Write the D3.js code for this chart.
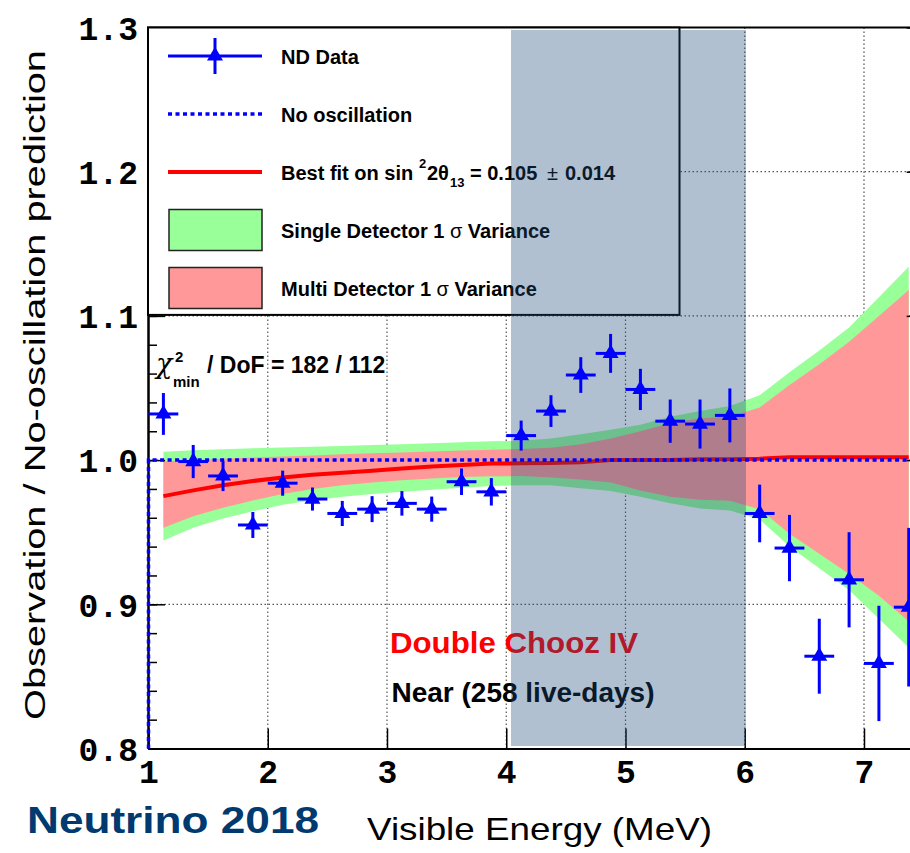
<!DOCTYPE html>
<html>
<head>
<meta charset="utf-8">
<script src="https://cdn.jsdelivr.net/npm/d3@7"></script>
<style>
  body { margin: 0; background: #fff; }
  svg { display: block; }
</style>
</head>
<body>
<div id="chart"></div>
<script>
// Bin centres (MeV) and near detector ratio data
const energy = [1.125, 1.375, 1.625, 1.875, 2.125, 2.375, 2.625, 2.875, 3.125, 3.375, 3.625, 3.875, 4.125,
                4.375, 4.625, 4.875, 5.125, 5.375, 5.625, 5.875, 6.125, 6.375, 6.625, 6.875, 7.125, 7.375];
const ratio = [1.032, 0.999, 0.989, 0.955, 0.984, 0.973, 0.963, 0.966, 0.970, 0.966, 0.985, 0.978, 1.017,
               1.034, 1.059, 1.074, 1.049, 1.027, 1.025, 1.031, 0.963, 0.939, 0.864, 0.917, 0.859, 0.898];
const ratioErr = [0.0145, 0.0115, 0.0105, 0.009, 0.0087, 0.008, 0.0087, 0.009, 0.0085, 0.0087, 0.0092, 0.0095, 0.0104,
                  0.011, 0.0124, 0.0135, 0.0143, 0.015, 0.017, 0.0187, 0.020, 0.023, 0.026, 0.033, 0.040, 0.055];
const binWidth = 0.25;

// Best fit curve
const bestFit = [0.975, 0.979, 0.9825, 0.9855, 0.988, 0.9898, 0.9912, 0.9926, 0.9942, 0.9955, 0.9966, 0.9976, 0.9978,
                 0.998, 0.9985, 1.000, 1.000, 1.000, 1.0006, 1.0006, 1.001, 1.002, 1.002, 1.002, 1.002, 1.002];

// 1 sigma bands
const singleUp = [1.0058, 1.0068, 1.0076, 1.0082, 1.0088, 1.0093, 1.0098, 1.0104, 1.0110, 1.0117, 1.0123, 1.0130, 1.0135,
                  1.0150, 1.0180, 1.0210, 1.0245, 1.0300, 1.0340, 1.0375, 1.0450, 1.0610, 1.0760, 1.0920, 1.1130, 1.1340];
const singleLo = [0.9443, 0.9530, 0.9595, 0.9645, 0.9690, 0.9720, 0.9745, 0.9765, 0.9780, 0.9795, 0.9808, 0.9820, 0.9826,
                  0.9826, 0.9805, 0.9785, 0.9745, 0.9700, 0.9665, 0.9650, 0.9590, 0.9400, 0.9250, 0.9100, 0.8900, 0.8700];
const multiUp = [0.9990, 1.0000, 1.0010, 1.0018, 1.0025, 1.0032, 1.0040, 1.0047, 1.0053, 1.0060, 1.0066, 1.0072, 1.0077,
                 1.0085, 1.0110, 1.0150, 1.0200, 1.0255, 1.0290, 1.0300, 1.0365, 1.0520, 1.0665, 1.0820, 1.1000, 1.1180];
const multiLo = [0.9530, 0.9610, 0.9670, 0.9720, 0.9765, 0.9800, 0.9825, 0.9845, 0.9860, 0.9872, 0.9882, 0.9888, 0.9889,
                 0.9880, 0.9865, 0.9845, 0.9790, 0.9745, 0.9725, 0.9718, 0.9660, 0.9490, 0.9350, 0.9210, 0.9060, 0.8880];

// Axes and annotations
const xTicks = [1, 2, 3, 4, 5, 6, 7];
const yTicks = [0.8, 0.9, 1.0, 1.1, 1.2, 1.3];
const xDomain = [1, 7.5];
const yDomain = [0.8, 1.3];
const shadedRange = [4.04, 6.01];
const noOscillation = 1.0;

const W = 910, H = 853;
const sans = "'Liberation Sans', Arial, Helvetica, sans-serif";
const mono = "'Liberation Mono', 'Courier New', monospace";
const blue = "#0000ff";

const svg = d3.select("#chart")
  .append("svg")
    .attr("width", W)
    .attr("height", H);

svg.append("rect").attr("width", W).attr("height", H).attr("fill", "#fff");

const x = d3.scaleLinear().domain(xDomain).range([148.5, 148.5 + 6.5 * 119.25]);
const y = d3.scaleLinear().domain(yDomain).range([748.5, 27.5]);

const pts = energy.map((e, i) => ({
  e: e, r: ratio[i], err: ratioErr[i], fit: bestFit[i],
  sUp: singleUp[i], sLo: singleLo[i], mUp: multiUp[i], mLo: multiLo[i]
}));

// Grid lines
const grid = svg.append("g")
  .attr("stroke", "#555")
  .attr("stroke-width", 1.2)
  .attr("stroke-dasharray", "1.5,2.5");
grid.selectAll(".vg")
  .data(xTicks.slice(1))
  .join("line")
    .attr("x1", d => x(d)).attr("x2", d => x(d))
    .attr("y1", y(1.3)).attr("y2", y(0.8));
grid.selectAll(".hg")
  .data(yTicks.slice(1, -1))
  .join("line")
    .attr("x1", x(1)).attr("x2", W)
    .attr("y1", d => y(d)).attr("y2", d => y(d));

// Bands
const area = (lo, up) => d3.area()
  .x(d => x(d.e))
  .y0(d => y(d[lo]))
  .y1(d => y(d[up]));

svg.append("path").datum(pts).attr("fill", "#99ff99").attr("d", area("sLo", "sUp"));
svg.append("path").datum(pts).attr("fill", "#ff9999").attr("d", area("mLo", "mUp"));

// Best fit line
svg.append("path")
  .datum(pts)
  .attr("fill", "none")
  .attr("stroke", "#ff0000")
  .attr("stroke-width", 4)
  .attr("d", d3.line().x(d => x(d.e)).y(d => y(d.fit)));

// Axes
const styleAxis = g => {
  g.select(".domain").attr("stroke", "#000").attr("stroke-width", 2);
  g.selectAll(".tick line").attr("stroke", "#000").attr("stroke-width", 1.5);
  g.selectAll("text")
    .attr("font-family", mono)
    .attr("font-weight", "bold")
    .attr("font-size", 33)
    .attr("fill", "#000");
};

svg.append("g")
  .attr("transform", `translate(0,${y(0.8)})`)
  .call(d3.axisBottom(x).tickValues(xTicks).tickSize(-20).tickSizeOuter(0).tickPadding(11).tickFormat(d3.format("d")))
  .call(styleAxis);

svg.append("g")
  .attr("transform", `translate(${x(1) - 0.5},0)`)
  .call(d3.axisLeft(y).ticks(25).tickSize(-9).tickSizeOuter(0).tickFormat(""))
  .call(styleAxis);

svg.append("g")
  .attr("transform", `translate(${x(1) - 0.5},0)`)
  .call(d3.axisLeft(y).tickValues(yTicks).tickSize(-17).tickSizeOuter(0).tickPadding(10).tickFormat(d3.format(".1f")))
  .call(styleAxis)
  .call(g => g.selectAll("text").attr("dy", "0.36em"));

svg.append("g")
  .attr("transform", `translate(${x(xDomain[1])},0)`)
  .call(d3.axisRight(y).tickValues(yTicks).tickSize(-17).tickSizeOuter(0).tickFormat(""))
  .call(styleAxis);

// Top frame
svg.append("line")
  .attr("x1", x(1) - 1.5).attr("x2", W)
  .attr("y1", y(1.3)).attr("y2", y(1.3))
  .attr("stroke", "#000").attr("stroke-width", 2);

// Legend
const legend = svg.append("g");
legend.append("rect")
  .attr("x", x(1) - 0.5).attr("y", y(1.3))
  .attr("width", 680 - x(1)).attr("height", y(1.1) - 1 - y(1.3))
  .attr("fill", "#fff")
  .attr("stroke", "#000")
  .attr("stroke-width", 2);

const rowY = i => 56 + i * 58;
const sx0 = 168, sx1 = 262, tx = 281;

// row 0: ND data
legend.append("line").attr("x1", sx0).attr("x2", sx1).attr("y1", rowY(0)).attr("y2", rowY(0))
  .attr("stroke", blue).attr("stroke-width", 3);
legend.append("line").attr("x1", (sx0 + sx1) / 2).attr("x2", (sx0 + sx1) / 2).attr("y1", rowY(0) - 18).attr("y2", rowY(0) + 18)
  .attr("stroke", blue).attr("stroke-width", 3);
legend.append("path")
  .attr("d", d3.symbol(d3.symbolTriangle, 110))
  .attr("transform", `translate(${(sx0 + sx1) / 2},${rowY(0)})`)
  .attr("fill", blue);
// row 1: no oscillation
legend.append("line").attr("x1", sx0).attr("x2", sx1).attr("y1", rowY(1)).attr("y2", rowY(1))
  .attr("stroke", blue).attr("stroke-width", 3.5).attr("stroke-dasharray", "4,3.5");
// row 2: best fit
legend.append("line").attr("x1", sx0).attr("x2", sx1).attr("y1", rowY(2)).attr("y2", rowY(2))
  .attr("stroke", "#ff0000").attr("stroke-width", 4);
// rows 3, 4: bands
[["#99ff99", 3], ["#ff9999", 4]].forEach(([c, i]) => {
  legend.append("rect")
    .attr("x", sx0 + 1).attr("y", rowY(i) - 20.5)
    .attr("width", sx1 - sx0 - 1).attr("height", 41)
    .attr("fill", c).attr("stroke", "#222").attr("stroke-width", 1.5);
});

const legText = (i) => legend.append("text")
  .attr("x", tx).attr("y", rowY(i) + 7.5)
  .attr("font-family", sans).attr("font-weight", "bold").attr("font-size", 20).attr("fill", "#000");

legText(0).text("ND Data");
legText(1).text("No oscillation");
const bf = legText(2);
bf.append("tspan").text("Best fit on sin ");
bf.append("tspan").attr("x", 419).attr("y", rowY(2) - 4).attr("font-size", 13).text("2");
bf.append("tspan").attr("x", 427).attr("y", rowY(2) + 7.5).text("2\u03b8");
bf.append("tspan").attr("x", 450).attr("y", rowY(2) + 15).attr("font-size", 13).text("13");
bf.append("tspan").attr("x", 470).attr("y", rowY(2) + 7.5).text("= 0.105");
bf.append("tspan").attr("x", 547).attr("font-weight", "normal").text("\u00b1");
bf.append("tspan").attr("x", 565).text("0.014");
const s1 = legText(3);
s1.append("tspan").text("Single Detector 1 ");
s1.append("tspan").attr("font-weight", "normal").text("\u03c3");
s1.append("tspan").text(" Variance");
const m1 = legText(4);
m1.append("tspan").text("Multi Detector 1 ");
m1.append("tspan").attr("font-weight", "normal").text("\u03c3");
m1.append("tspan").text(" Variance");

// Chi2 annotation
const chi = svg.append("g").attr("font-family", sans).attr("fill", "#000");
chi.append("text").attr("x", 156).attr("y", 373).attr("font-size", 27)
  .attr("font-family", "'DejaVu Serif', serif").attr("font-style", "italic").text("\u03c7");
chi.append("text").attr("x", 175).attr("y", 362).attr("font-size", 15).attr("font-weight", "bold").text("2");
chi.append("text").attr("x", 173).attr("y", 387).attr("font-size", 15).attr("font-weight", "bold").text("min");
chi.append("text").attr("x", 207).attr("y", 373).attr("font-size", 23).attr("font-weight", "bold").text("/ DoF = 182 / 112");

// Experiment labels
svg.append("text")
  .attr("x", 514).attr("y", 653)
  .attr("text-anchor", "middle")
  .attr("font-family", sans).attr("font-weight", "bold").attr("font-size", 30)
  .attr("textLength", 248).attr("lengthAdjust", "spacingAndGlyphs")
  .attr("fill", "#ff0000")
  .text("Double Chooz IV");
svg.append("text")
  .attr("x", 523).attr("y", 702)
  .attr("text-anchor", "middle")
  .attr("font-family", sans).attr("font-weight", "bold").attr("font-size", 28)
  .attr("fill", "#000")
  .text("Near (258 live-days)");

// Shaded energy window (drawn over bands and text)
svg.append("rect")
  .attr("x", x(shadedRange[0])).attr("y", y(1.3) + 2.5)
  .attr("width", x(shadedRange[1]) - x(shadedRange[0]))
  .attr("height", y(0.8) - y(1.3) - 5)
  .attr("fill", "#1d4b79")
  .attr("fill-opacity", 0.35);

// No-oscillation reference
svg.append("path")
  .attr("d", d3.line()([[x(1), y(0.8)], [x(1), y(noOscillation)], [W, y(noOscillation)]]))
  .attr("fill", "none")
  .attr("stroke", blue)
  .attr("stroke-width", 3.5)
  .attr("stroke-dasharray", "4,3.5");

// Data points with error bars
const dataG = svg.append("g");
dataG.selectAll(".hbar")
  .data(pts)
  .join("line")
    .attr("x1", d => x(d.e - binWidth / 2)).attr("x2", d => x(d.e + binWidth / 2))
    .attr("y1", d => y(d.r)).attr("y2", d => y(d.r))
    .attr("stroke", blue).attr("stroke-width", 3);
dataG.selectAll(".vbar")
  .data(pts)
  .join("line")
    .attr("x1", d => x(d.e)).attr("x2", d => x(d.e))
    .attr("y1", d => y(d.r - d.err)).attr("y2", d => y(d.r + d.err))
    .attr("stroke", blue).attr("stroke-width", 3);
dataG.selectAll(".mark")
  .data(pts)
  .join("path")
    .attr("d", d3.symbol(d3.symbolTriangle, 110))
    .attr("transform", d => `translate(${x(d.e)},${y(d.r)})`)
    .attr("fill", blue);

// Axis titles
svg.append("text")
  .attr("transform", "translate(45,385) rotate(-90)")
  .attr("text-anchor", "middle")
  .attr("font-family", sans).attr("font-size", 30)
  .attr("textLength", 670).attr("lengthAdjust", "spacingAndGlyphs")
  .attr("fill", "#000")
  .text("Observation / No-oscillation prediction");

svg.append("text")
  .attr("x", 367).attr("y", 840)
  .attr("font-family", sans).attr("font-size", 32)
  .attr("textLength", 345).attr("lengthAdjust", "spacingAndGlyphs")
  .attr("fill", "#000")
  .text("Visible Energy (MeV)");

svg.append("text")
  .attr("x", 27).attr("y", 833)
  .attr("font-family", sans).attr("font-weight", "bold").attr("font-size", 37)
  .attr("textLength", 292).attr("lengthAdjust", "spacingAndGlyphs")
  .attr("fill", "#003a70")
  .text("Neutrino 2018");
</script>
</body>
</html>
